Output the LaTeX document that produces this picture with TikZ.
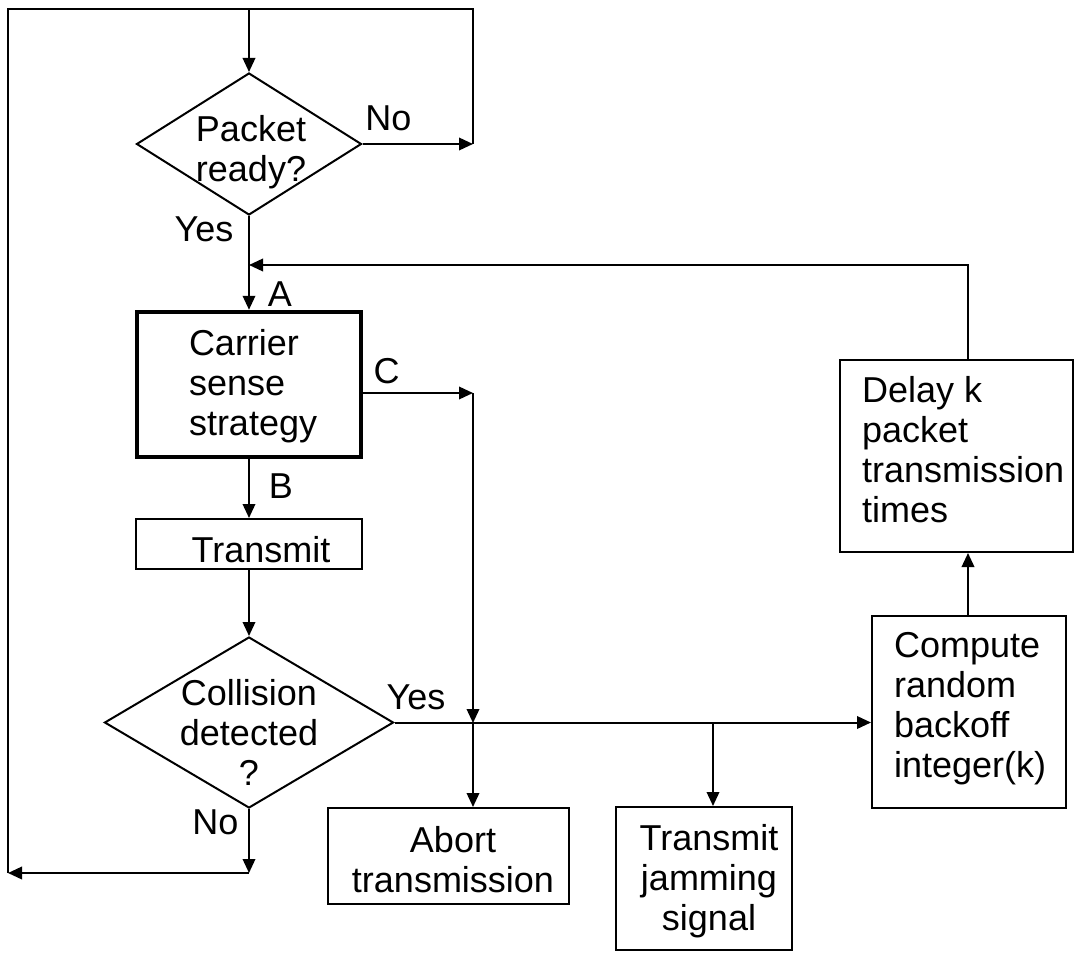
\documentclass[tikz,border=0pt]{standalone}
\usepackage{fontspec}
\setmainfont{Liberation Sans}
\usetikzlibrary{arrows.meta,shapes.geometric}

\begin{document}
\begin{tikzpicture}[
  x=1pt, y=-1pt,
  line width=2pt,
  arr/.style={-{Triangle[length=14pt,width=12.5pt]}},
  txt/.style={inner sep=0pt, font=\fontsize{36}{40}\selectfont},
  lbl/.style={txt, anchor=center},
  box/.style={draw, inner sep=0pt, line width=2pt},
  decision/.style={draw, diamond, inner sep=0pt, line width=2pt}
]
\useasboundingbox (0,0) rectangle (1075,952);

% ---- shapes ----
\node[decision, minimum width=225pt, minimum height=142pt] (pkt) at (249,144) {};
\node[box, line width=4.5pt, minimum width=224pt, minimum height=145pt] (cs) at (249,384.5) {};
\node[box, minimum width=226pt, minimum height=50pt] (tx) at (249,544) {};
\node[decision, minimum width=289pt, minimum height=171pt] (coll) at (249,722.5) {};
\node[box, minimum width=241pt, minimum height=96pt] (ab) at (448.5,856) {};
\node[box, minimum width=176pt, minimum height=143pt] (jm) at (704,878.5) {};
\node[box, minimum width=194pt, minimum height=192pt] (cp) at (969,712) {};
\node[box, minimum width=233pt, minimum height=192pt] (dl) at (956.5,456) {};

% ---- texts (placed by the baseline of their last line) ----
\node[txt, align=center, anchor=base] (pktT) at (251,182) {Packet\\ready?};
\node[txt, align=left, anchor=base west] (csT) at (188,435) {Carrier\\sense\\strategy};
\node[txt, anchor=base] (txT) at (261,562) {Transmit};
\node[txt, align=center, anchor=base] (collT) at (249,785) {Collision\\detected\\?};
\node[txt, align=center, anchor=base] (abT) at (453,892) {Abort\\transmission};
\node[txt, align=center, anchor=base] (jmT) at (709,930) {Transmit\\jamming\\signal};
\node[txt, align=left, anchor=base west] (cpT) at (893,777) {Compute\\random\\backoff\\integer(k)};
\node[txt, align=left, anchor=base west] (dlT) at (861,522) {Delay k\\packet\\transmission\\times};

% ---- branch labels ----
\node[lbl] (yes1) at (204,229.5) {Yes};
\node[lbl] (no1) at (388.5,118.5) {No};
\node[lbl] (la) at (280,294.5) {A};
\node[lbl] (lb) at (281,486.5) {B};
\node[lbl] (lc) at (386.5,371) {C};
\node[lbl] (yes2) at (416,697.5) {Yes};
\node[lbl] (no2) at (215.5,822.5) {No};

% ---- routing points ----
\coordinate (tl) at (8,9);
\coordinate (tm) at (249,9);
\coordinate (tr) at (473,9);
\coordinate (nr) at (473,144);
\coordinate (fb) at (968,265);
\coordinate (fbj) at (249,265);
\coordinate (cr) at (473,393);
\coordinate (cj) at (473,723);
\coordinate (jj) at (713,723);
\coordinate (nb) at (249,873);
\coordinate (nl) at (8,873);

% ---- connectors ----
\draw (nl) -- (tl) -- (tr) -- (nr);
\draw[arr] (tm) -- (pkt.north);
\draw[arr] (pkt.east) -- (nr);
\draw[arr] (pkt.south) -- (cs.north);
\draw[arr] (dl.north -| fb) -- (fb) -- (fbj);
\draw[arr] (cs.south) -- (tx.north);
\draw[arr] (tx.south) -- (coll.north);
\draw[arr] (cs.east |- cr) -- (cr);
\draw[arr] (cr) -- (cj);
\draw[arr] (cj) -- (cj |- ab.north);
\draw[arr] (coll.east) -- (coll.east -| cp.west);
\draw[arr] (jj) -- (jj |- jm.north);
\draw[arr] (cp.north -| fb) -- (dl.south -| fb);
\draw[arr] (coll.south) -- (nb);
\draw[arr] (nb) -- (nl);
\end{tikzpicture}
\end{document}
